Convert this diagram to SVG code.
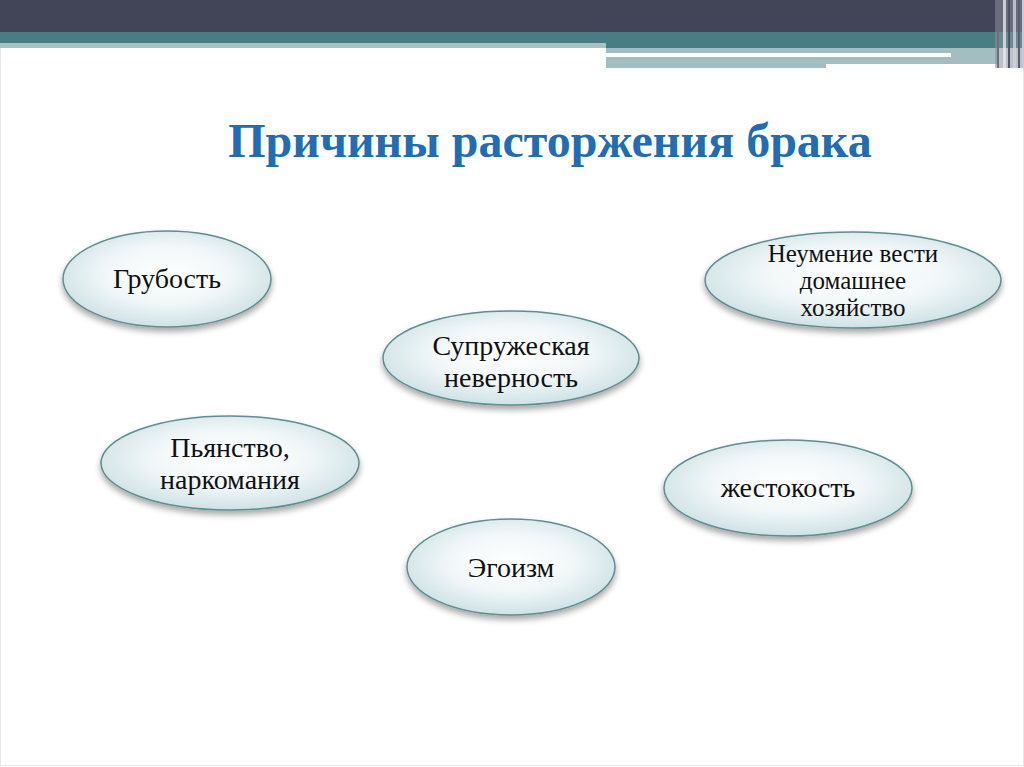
<svg xmlns="http://www.w3.org/2000/svg" width="1024" height="767" viewBox="0 0 1024 767">
  <defs>
    <radialGradient id="fillGrad" cx="50%" cy="45%" r="55%">
      <stop offset="0%" stop-color="#ffffff"/>
      <stop offset="55%" stop-color="#f1f7f8"/>
      <stop offset="100%" stop-color="#cfe2e6"/>
    </radialGradient>
    <filter id="shadow" x="-20%" y="-20%" width="140%" height="150%">
      <feDropShadow dx="0" dy="4" stdDeviation="3" flood-color="#000000" flood-opacity="0.35"/>
    </filter>
  </defs>
  <style>
    .node ellipse { fill: url(#fillGrad); stroke: #5e8e90; stroke-width: 1.5; filter: url(#shadow); }
    .lbl { font-family: "Liberation Serif", "Times New Roman", serif; font-size: 28px; fill: #111111; text-anchor: middle; }
    .lbl-sm { font-family: "Liberation Serif", "Times New Roman", serif; font-size: 25px; fill: #111111; text-anchor: middle; }
    .title { font-family: "Liberation Serif", "Times New Roman", serif; font-size: 48px; font-weight: bold; fill: #1f6db5; text-anchor: middle; }
  </style>

  <!-- background and slide border -->
  <rect x="0" y="0" width="1024" height="767" fill="#ffffff"/>
  <rect x="0.5" y="0.5" width="1023" height="765" fill="none" stroke="#e6e6e6" stroke-width="1"/>

  <!-- header bands -->
  <g id="header">
    <rect x="0" y="0" width="1024" height="32" fill="#424457"/>
    <rect x="0" y="32" width="1024" height="16" fill="#467e83"/>
    <rect x="0" y="43" width="606" height="5" fill="#a8c2c5"/>
    <rect x="606" y="48" width="392" height="16" fill="#a3bec1"/>
    <rect x="606" y="64" width="220" height="4" fill="#a3bec1"/>
    <rect x="606" y="53" width="345" height="4" fill="#ffffff"/>
    <rect x="995" y="0" width="29" height="68" fill="#8a8e9c" opacity="0.55"/>
    <rect x="997" y="0" width="2" height="68" fill="#6b6f80"/>
    <rect x="1003" y="0" width="3" height="68" fill="#e6e8ee" opacity="0.8"/>
    <rect x="1008" y="0" width="2" height="68" fill="#50546a"/>
    <rect x="1013" y="0" width="3" height="68" fill="#d0d4dc" opacity="0.8"/>
    <rect x="1018" y="0" width="2" height="68" fill="#5a5e72"/>
    <rect x="1022" y="0" width="2" height="68" fill="#c8ccd4"/>
  </g>

  <text id="title" class="title" x="550" y="157">Причины расторжения брака</text>

  <g id="connectors"></g>

  <g id="node-grubost" class="node">
    <ellipse cx="167" cy="279" rx="104" ry="48"/>
    <text class="lbl" x="167" y="288">Грубость</text>
  </g>

  <g id="node-neumenie" class="node">
    <ellipse cx="853" cy="280" rx="148" ry="48"/>
    <text class="lbl-sm" x="853" y="262">Неумение вести</text>
    <text class="lbl-sm" x="853" y="289">домашнее</text>
    <text class="lbl-sm" x="853" y="316">хозяйство</text>
  </g>

  <g id="node-nevernost" class="node">
    <ellipse cx="511" cy="358" rx="128" ry="47"/>
    <text class="lbl" x="511" y="355">Супружеская</text>
    <text class="lbl" x="511" y="387">неверность</text>
  </g>

  <g id="node-pyanstvo" class="node">
    <ellipse cx="230" cy="463" rx="129" ry="47"/>
    <text class="lbl" x="230" y="457">Пьянство,</text>
    <text class="lbl" x="230" y="489">наркомания</text>
  </g>

  <g id="node-zhestokost" class="node">
    <ellipse cx="788" cy="488" rx="124" ry="48"/>
    <text class="lbl" x="788" y="497">жестокость</text>
  </g>

  <g id="node-egoizm" class="node">
    <ellipse cx="511" cy="567" rx="104" ry="48"/>
    <text class="lbl" x="511" y="577">Эгоизм</text>
  </g>
</svg>
